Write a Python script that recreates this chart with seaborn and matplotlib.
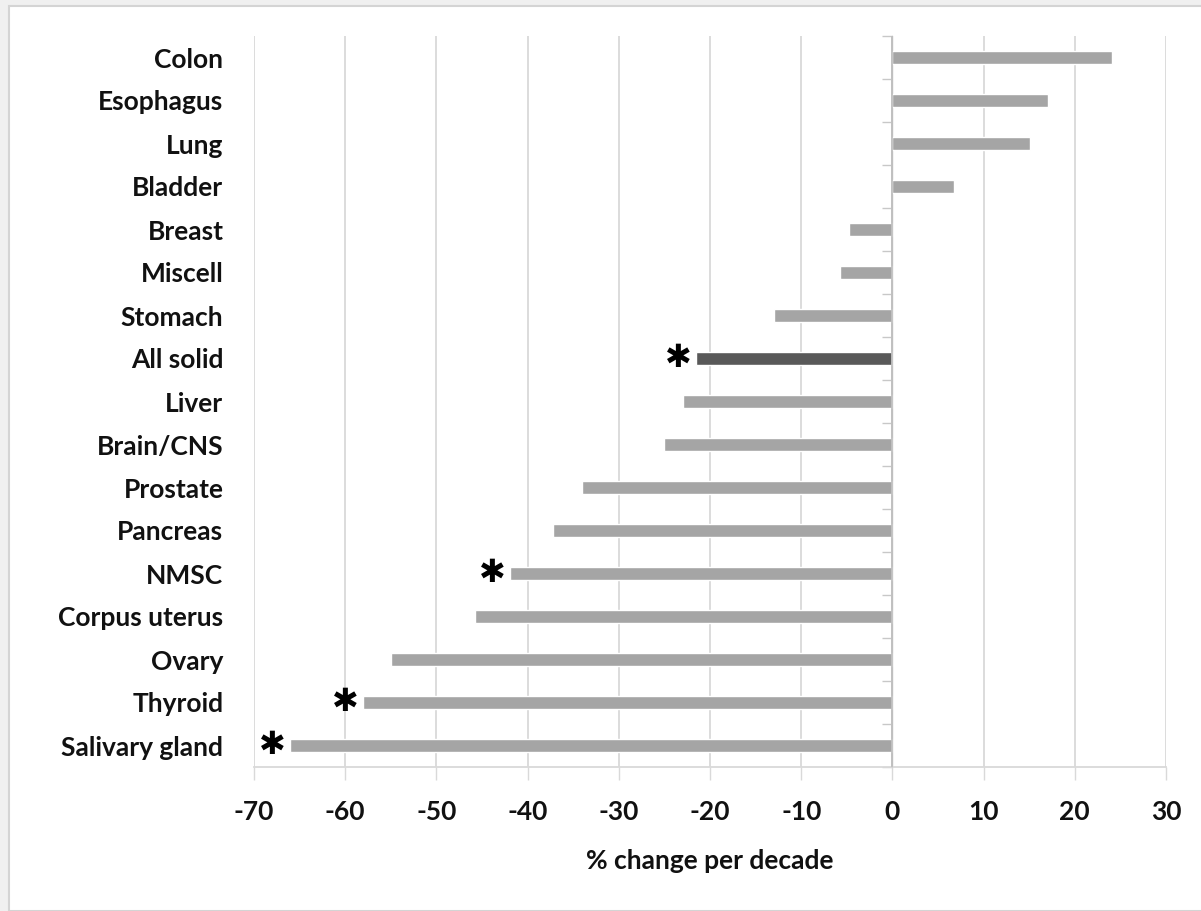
import numpy as np
import pandas as pd
import seaborn as sns
import matplotlib.pyplot as plt
from matplotlib.patches import Rectangle

# data
sites = ['Colon', 'Esophagus', 'Lung', 'Bladder', 'Breast', 'Miscell', 'Stomach',
         'All solid', 'Liver', 'Brain/CNS', 'Prostate', 'Pancreas', 'NMSC',
         'Corpus uterus', 'Ovary', 'Thyroid', 'Salivary gland']
change = [24.1, 17.1, 15.1, 6.8, -4.8, -5.8, -13.0,
          -21.5, -23.0, -25.0, -34.0, -37.2, -41.9,
          -45.8, -55.0, -58.1, -66.0]
significant = ['All solid', 'NMSC', 'Thyroid', 'Salivary gland']
xticks = [-70, -60, -50, -40, -30, -20, -10, 0, 10, 20, 30]

df = pd.DataFrame({'site': sites, 'change': change})
colors = {s: ('#595959' if s == 'All solid' else '#a5a5a5') for s in sites}

sns.set_style('white')
plt.rcParams['font.family'] = ['Lato', 'DejaVu Sans']

W, H = 1201, 911
fig = plt.figure(figsize=(W / 100, H / 100), dpi=100)
fig.patch.set_facecolor('#f0f0f0')
fig.patches.append(Rectangle((9 / W, 0), 1, 1 - 6 / H, transform=fig.transFigure,
                             facecolor='white', edgecolor='#d4d4d4', lw=1.5, zorder=-10))

ax = fig.add_axes([254 / W, 1 - 767 / H, (1166 - 254) / W, (767 - 36) / H])
ax.patch.set_alpha(0)

sns.barplot(data=df, x='change', y='site', hue='site', palette=colors,
            orient='h', width=0.32, legend=False, ax=ax, zorder=3)

ax.set_xlim(-70, 30)
ax.set_xticks(xticks)
ax.set_xticklabels([str(t) for t in xticks], fontsize=19, fontweight='bold', color='#111111')
ax.grid(axis='x', color='#d9d9d9', lw=1.3, zorder=0)
ax.grid(axis='y', visible=False)
for s in ['top', 'right', 'left']:
    ax.spines[s].set_visible(False)
ax.spines['bottom'].set_color('#d9d9d9')
ax.spines['bottom'].set_linewidth(1.3)
ax.tick_params(axis='x', length=9, width=1.0, color='#d9d9d9', pad=15, direction='out', bottom=True)
ax.tick_params(axis='y', length=0, pad=22)
for lab in ax.get_yticklabels():
    lab.set_fontsize(19)
    lab.set_fontweight('bold')
    lab.set_color('#111111')
ax.set_ylabel('')
ax.set_xlabel('% change per decade', fontsize=19, fontweight='bold', color='#111111', labelpad=18)

# vertical axis at zero with ticks between categories
ax.axvline(0, color='#bfbfbf', lw=1.3, zorder=4)
sec = ax.secondary_yaxis(0.7)
sec.set_yticks(np.arange(len(sites) + 1) - 0.5)
sec.set_yticklabels([])
sec.tick_params(length=7, width=1.0, color='#c8c8c8', direction='in')
sec.spines['left'].set_visible(False)

# asterisks for significant trends
for s, v in zip(sites, change):
    if s in significant:
        ax.annotate('✱', xy=(v, sites.index(s)), xytext=(-3, 0), textcoords='offset points',
                    ha='right', va='center', fontsize=23, fontweight='bold',
                    family='DejaVu Sans', color='black')

fig.savefig('out.png', dpi=100, facecolor=fig.get_facecolor())
